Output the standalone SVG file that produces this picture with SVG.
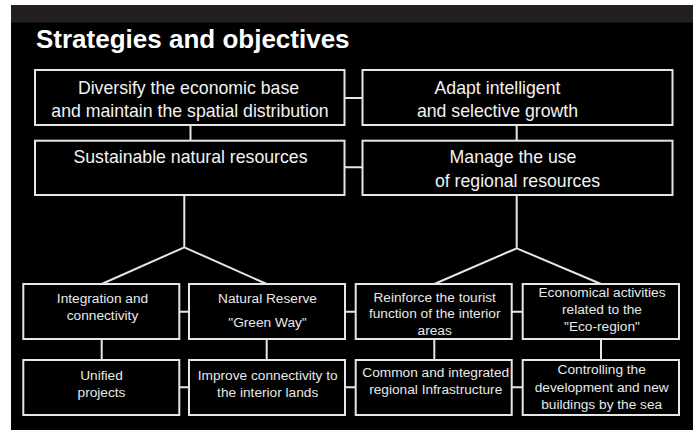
<svg xmlns="http://www.w3.org/2000/svg" width="697" height="430" viewBox="0 0 697 430">
<style>
.box{fill:#000;stroke:#e6e6e6;stroke-width:2}
.ln{fill:none;stroke:#e6e6e6;stroke-width:2}
.t1{font-family:"Liberation Sans",Arial,sans-serif;font-size:17.7px;fill:#f2f2f2;text-anchor:middle}
.t2{font-family:"Liberation Sans",Arial,sans-serif;font-size:13.7px;fill:#e8e8e8;text-anchor:middle}
.title{font-family:"Liberation Sans",Arial,sans-serif;font-size:26px;font-weight:bold;fill:#fff}
</style>
<rect x="0" y="0" width="697" height="430" fill="#fff"/>
<rect x="11" y="5" width="682" height="425" fill="#000"/>
<rect x="11" y="5" width="682" height="17.5" fill="#231f20"/>
<text class="title" x="36" y="48">Strategies and objectives</text>
<g id="connectors">
<path class="ln" d="M344.5 98H362.5M344.5 167.3H362.5"/>
<path class="ln" d="M190.5 125V140.7M516.7 125V140.7"/>
<path class="ln" d="M184.3 195V247.3L101.7 284M184.3 247.3L266.7 284"/>
<path class="ln" d="M516.7 195V248.3L434.3 284M516.7 248.3L601 284"/>
<path class="ln" d="M179.3 311.7H189M345 311.7H355.7M511.7 311.7H522.7"/>
<path class="ln" d="M179.3 387.3H189M345 387.3H355.7M511.7 387.3H522.7"/>
<path class="ln" d="M101.7 339V360M266.7 339V360M434.3 339V360M601 339V360"/>
</g>
<g id="n1"><rect class="box" x="35" y="70" width="309.5" height="55"/>
<text class="t1" x="188.5" y="94">Diversify the economic base</text>
<text class="t1" x="190" y="117">and maintain the spatial distribution</text></g>
<g id="n2"><rect class="box" x="362.5" y="70" width="310" height="55"/>
<text class="t1" x="497.5" y="94">Adapt intelligent</text>
<text class="t1" x="497.5" y="117">and selective growth</text></g>
<g id="n3"><rect class="box" x="35" y="140.7" width="309.5" height="54.3"/>
<text class="t1" x="190.5" y="163.3">Sustainable natural resources</text></g>
<g id="n4"><rect class="box" x="362.5" y="140.7" width="310" height="54.3"/>
<text class="t1" x="513" y="163.3">Manage the use</text>
<text class="t1" x="517.5" y="186.7">of regional resources</text></g>
<g id="n5"><rect class="box" x="23.3" y="284" width="156" height="55"/>
<text class="t2" x="102.5" y="303.3">Integration and</text>
<text class="t2" x="102.5" y="320">connectivity</text></g>
<g id="n6"><rect class="box" x="189" y="284" width="156" height="55"/>
<text class="t2" x="267.5" y="303.3">Natural Reserve</text>
<text class="t2" x="267.5" y="326.7">"Green Way"</text></g>
<g id="n7"><rect class="box" x="355.7" y="284" width="156" height="55"/>
<text class="t2" x="434.7" y="301.7">Reinforce the tourist</text>
<text class="t2" x="434.7" y="318.3">function of the interior</text>
<text class="t2" x="434.7" y="335">areas</text></g>
<g id="n8"><rect class="box" x="522.7" y="284" width="156.3" height="55"/>
<text class="t2" x="602" y="297.3">Economical activities</text>
<text class="t2" x="602" y="314">related to the</text>
<text class="t2" x="602" y="330.7">"Eco-region"</text></g>
<g id="n9"><rect class="box" x="23.3" y="360" width="156" height="55"/>
<text class="t2" x="101.5" y="380">Unified</text>
<text class="t2" x="101.5" y="397.3">projects</text></g>
<g id="n10"><rect class="box" x="189" y="360" width="156" height="55"/>
<text class="t2" x="267.7" y="380">Improve connectivity to</text>
<text class="t2" x="267.7" y="397.3">the interior lands</text></g>
<g id="n11"><rect class="box" x="355.7" y="360" width="156" height="55"/>
<text class="t2" x="435.7" y="377.3">Common and integrated</text>
<text class="t2" x="435.7" y="394">regional Infrastructure</text></g>
<g id="n12"><rect class="box" x="522.7" y="360" width="156.3" height="55"/>
<text class="t2" x="601.7" y="374">Controlling the</text>
<text class="t2" x="601.7" y="391.7">development and new</text>
<text class="t2" x="601.7" y="409.3">buildings by the sea</text></g>
</svg>
